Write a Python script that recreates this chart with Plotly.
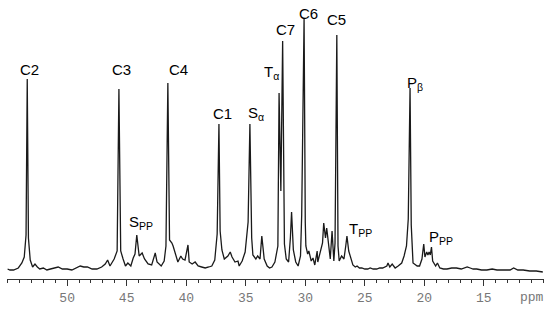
"""13C NMR spectrum with peak assignments"""
import plotly.graph_objs as go

# spectrum: chemical shift (ppm) and intensity (a.u.)
ppm = [55.0, 54.8, 54.5, 54.3, 54.1, 53.8, 53.6, 53.45, 53.35, 53.25, 53.1, 52.9,
       52.7, 52.5, 52.3, 52.0, 51.7, 51.4, 51.1, 50.75, 50.4, 50.0, 49.6, 49.2,
       48.9, 48.6, 48.3, 47.9, 47.5, 47.1, 46.8, 46.6, 46.4,
       46.05, 45.8, 45.65, 45.5, 45.3, 45.1, 44.9, 44.65, 44.45, 44.3, 44.15, 43.95,
       43.7, 43.5, 43.2, 42.9, 42.6, 42.45, 42.1, 41.85, 41.7, 41.54, 41.4, 41.2,
       41.1, 40.85, 40.7, 40.45, 40.3, 40.1, 39.85, 39.75, 39.5, 39.25, 39.0, 38.7,
       38.4, 38.1, 37.85, 37.6, 37.4, 37.25, 37.15, 37.0, 36.8, 36.5, 36.3, 36.15,
       35.9, 35.65, 35.55, 35.3, 35.05, 34.8, 34.65, 34.5, 34.4, 34.15, 34.0, 33.8,
       33.65, 33.45, 33.2, 33.0, 32.8, 32.55, 32.3, 32.2, 32.05, 31.9, 31.75, 31.6,
       31.4, 31.25, 31.15, 31.0, 30.8, 30.6, 30.4, 30.3, 30.1, 30.0, 29.95, 29.8,
       29.7, 29.5, 29.35, 29.2, 29.0, 28.95, 28.7, 28.55, 28.45, 28.3, 28.2, 28.0,
       27.9, 27.75, 27.6, 27.5, 27.35, 27.25, 27.15, 26.95, 26.75, 26.6, 26.5, 26.35,
       26.2, 26.0, 25.8, 25.65, 25.45, 25.25, 25.0, 24.75, 24.55, 24.3, 24.0, 23.75,
       23.5, 23.3, 23.15, 23.05, 22.9, 22.7, 22.45, 22.2, 21.9, 21.7, 21.5, 21.35,
       21.2, 21.1, 21.0, 20.95, 20.6, 20.4, 20.2, 20.05, 19.95, 19.8, 19.7, 19.6,
       19.5, 19.4, 19.3, 19.05, 18.9, 18.7, 18.4, 18.1, 17.7, 17.3, 16.9, 16.4,
       16.15, 15.9, 15.6, 15.2, 14.75, 14.3, 13.9, 13.4, 12.8, 12.5, 12.15, 11.7,
       11.15, 10.6, 10.05]
intensity = [2, 1, 1, 2, 3, 8, 14, 36, 192, 33, 11, 4,
             7, 4, 2, 3, 1, 2, 3, 4, 2, 2, 1, 3,
             5, 4, 4, 2, 2, 4, 7, 11, 5,
             12, 20, 182, 20, 12, 5, 8, 5, 13, 17, 36, 15,
             18, 12, 7, 6, 18, 9, 5, 10, 25, 188, 31, 28,
             25, 15, 9, 15, 12, 11, 26, 9, 7, 9, 5, 4,
             3, 4, 5, 11, 37, 147, 40, 21, 12, 15, 19, 14,
             9, 10, 5, 10, 19, 49, 147, 33, 16, 12, 15, 12,
             35, 12, 5, 3, 4, 9, 25, 178, 80, 230, 27, 12,
             9, 33, 59, 21, 9, 5, 15, 56, 253, 49, 25, 17,
             20, 10, 13, 6, 20, 9, 20, 28, 48, 33, 43, 20,
             12, 40, 10, 28, 236, 25, 10, 15, 12, 25, 35, 20,
             13, 6, 4, 5, 3, 3, 2, 2, 3, 2, 2, 3,
             3, 4, 5, 8, 4, 7, 3, 5, 8, 15, 25, 52,
             183, 46, 25, 8, 5, 5, 12, 27, 14, 19, 16, 19,
             16, 24, 10, 5, 8, 3, 2, 2, 3, 3, 2, 4,
             3, 2, 2, 1, 1, 2, 1, 1, 1, 3, 1, 1,
             0, 0, -1]

# peak assignments
peak_labels = ['C2', 'C3', 'C4', 'C1', 'S<sub>α</sub>', 'T<sub>α</sub>', 'C7', 'C6',
               'C5', 'P<sub>β</sub>', 'S<sub>PP</sub>', 'T<sub>PP</sub>', 'P<sub>PP</sub>']
label_ppm = [53.19, 45.47, 40.68, 36.99, 34.14, 32.8, 31.7, 29.77,
             27.34, 20.79, 43.79, 25.32, 18.61]
label_y = [202, 202, 202, 158, 158, 199, 242, 258,
           252, 188, 49, 42, 34]

major_ticks = [50, 45, 40, 35, 30, 25, 20, 15]

spectrum = go.Scatter(
    x=ppm,
    y=intensity,
    mode='lines',
    line=dict(color='#1a1a1a', width=1.3),
    showlegend=False,
    hoverinfo='x+y',
)

annotations = [
    dict(x=px, y=py, xref='x', yref='y', text=txt, showarrow=False,
         font=dict(family='Liberation Sans, Arial', size=15, color='black'))
    for txt, px, py in zip(peak_labels, label_ppm, label_y)
]
annotations.append(
    dict(x=10.95, y=-0.066, xref='x', yref='paper', yanchor='middle',
         text='ppm', showarrow=False,
         font=dict(family='Liberation Mono, Courier New', size=13, color='#777777'))
)

layout = go.Layout(
    width=550,
    height=310,
    margin=dict(l=7, r=6, t=0, b=31),
    plot_bgcolor='white',
    paper_bgcolor='white',
    showlegend=False,
    annotations=annotations,
    xaxis=dict(
        range=[55.05, 9.95],
        tickvals=major_ticks,
        ticks='outside',
        ticklen=6,
        tickcolor='#333333',
        showline=True,
        linecolor='#333333',
        linewidth=1,
        showgrid=False,
        zeroline=False,
        tickfont=dict(family='Liberation Mono, Courier New', size=13, color='#777777'),
        minor=dict(dtick=1, ticks='outside', ticklen=3, tickcolor='#333333', showgrid=False),
    ),
    yaxis=dict(
        range=[-8, 271],
        visible=False,
        showgrid=False,
        zeroline=False,
    ),
)

fig = go.Figure(data=[spectrum], layout=layout)
# page body has a default 8px margin; drop it so the figure sits at the window corner
fig.write_html("out.html", config={'displayModeBar': False},
               post_script="document.body.style.margin='0';")
